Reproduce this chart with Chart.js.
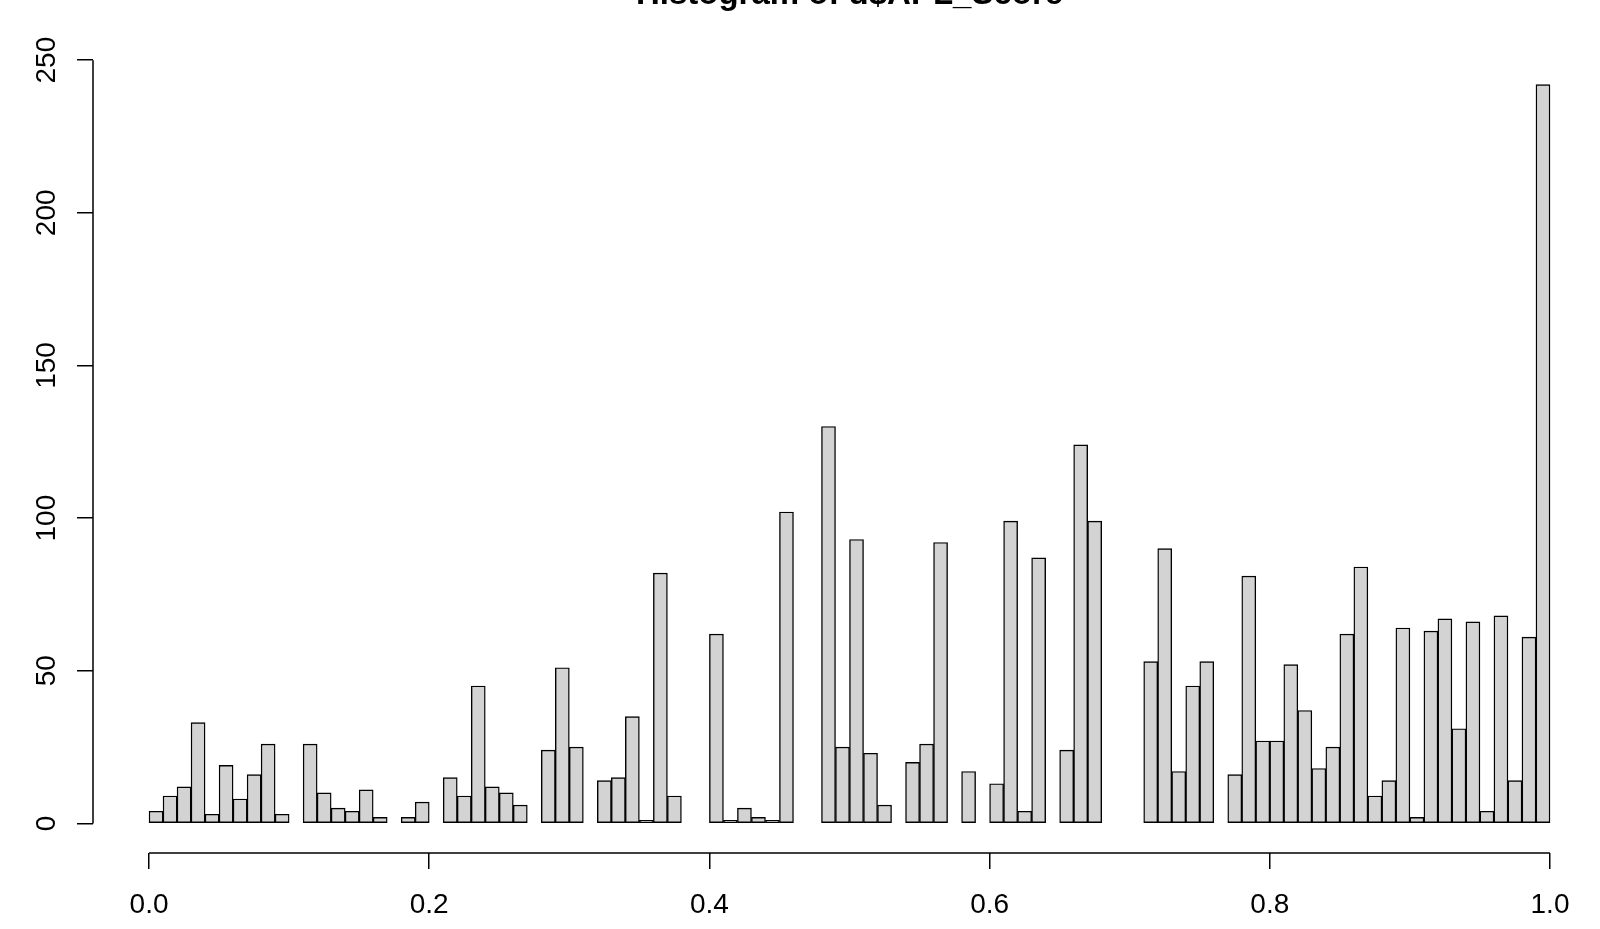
<!DOCTYPE html>
<html>
<head>
<meta charset="utf-8">
<title>Histogram of d$APL_Score</title>
<script src="https://cdn.jsdelivr.net/npm/chart.js@4/dist/chart.umd.min.js"></script>
<style>
    html, body { margin: 0; padding: 0; background: #fff; }
    #wrap { width: 1600px; height: 929px; position: relative; }
</style>
</head>
<body>
<div id="wrap"><canvas id="histChart"></canvas></div>
<script>
'use strict';

// ------------------------------------------------------- //
// Data (counts per 0.01 bin, 0.00 -> 1.00)
// ------------------------------------------------------ //
var binWidth = 0.01;
var counts = [
    4, 9, 12, 33, 3, 19, 8, 16, 26, 3,
    0, 26, 10, 5, 4, 11, 2, 0, 2, 7,
    0, 15, 9, 45, 12, 10, 6, 0, 24, 51,
    25, 0, 14, 15, 35, 1, 82, 9, 0, 0,
    62, 1, 5, 2, 1, 102, 0, 0, 130, 25,
    93, 23, 6, 0, 20, 26, 92, 0, 17, 0,
    13, 99, 4, 87, 0, 24, 124, 99, 0, 0,
    0, 53, 90, 17, 45, 53, 0, 16, 81, 27,
    27, 52, 37, 18, 25, 62, 84, 9, 14, 64,
    2, 63, 67, 31, 66, 4, 68, 14, 61, 242
];
var xTicks = [0, 0.2, 0.4, 0.6, 0.8, 1.0];
var yTicks = [0, 50, 100, 150, 200, 250];
var titleText = 'Histogram of d$APL_Score';

var fontFamily = '"Liberation Sans", Arial, Helvetica, sans-serif';

// bin midpoints used as the bars' x positions
var binMids = counts.map(function (c, i) {
    return +(i * binWidth + binWidth / 2).toFixed(3);
});
var points = counts.map(function (c, i) {
    return { x: binMids[i], y: c };
});

// R style range: data range stretched 4% each side (right side cut by the image)
var xMin = -0.04, xMax = 1.0357;
var yMin = -9.68, yMax = 251.68;

// ------------------------------------------------------- //
// R-like axes (lines only between first and last tick) + title
// ------------------------------------------------------ //
var rAxes = {
    id: 'rAxes',
    afterDraw: function (chart) {
        var ctx = chart.ctx;
        var area = chart.chartArea;
        var xs = chart.scales.x;
        var ys = chart.scales.y;
        ctx.save();
        ctx.strokeStyle = '#000';
        ctx.lineWidth = 1.5;
        ctx.beginPath();
        ctx.moveTo(xs.getPixelForValue(xTicks[0]), area.bottom);
        ctx.lineTo(xs.getPixelForValue(xTicks[xTicks.length - 1]), area.bottom);
        ctx.moveTo(area.left, ys.getPixelForValue(yTicks[0]));
        ctx.lineTo(area.left, ys.getPixelForValue(yTicks[yTicks.length - 1]));
        ctx.stroke();

        ctx.fillStyle = '#000';
        ctx.font = 'bold 33px ' + fontFamily;
        ctx.textAlign = 'center';
        ctx.textBaseline = 'alphabetic';
        ctx.fillText(titleText, (area.left + xs.getPixelForValue(1.04)) / 2, 4);
        ctx.restore();
    }
};

// ------------------------------------------------------- //
// Histogram
// ------------------------------------------------------ //
var HISTCHART = document.getElementById('histChart');
var histChart = new Chart(HISTCHART, {
    type: 'bar',
    data: {
        datasets: [
            {
                label: 'APL_Score',
                data: points,
                backgroundColor: '#d3d3d3',
                borderColor: '#000',
                borderWidth: 1.4,
                borderSkipped: false,
                barPercentage: 1.0,
                categoryPercentage: 1.0
            }
        ]
    },
    options: {
        responsive: true,
        maintainAspectRatio: false,
        animation: false,
        layout: {
            padding: { top: 55, left: 0, right: 0, bottom: 0 }
        },
        plugins: {
            legend: { display: false },
            tooltip: { enabled: false }
        },
        scales: {
            x: {
                type: 'linear',
                min: xMin,
                max: xMax,
                offset: false,
                afterBuildTicks: function (scale) {
                    scale.ticks = xTicks.map(function (v) { return { value: v }; });
                },
                afterFit: function (scale) {
                    scale.height = 76;
                },
                border: { display: false },
                grid: {
                    offset: false,
                    drawOnChartArea: false,
                    drawTicks: true,
                    tickLength: 16,
                    tickColor: '#000',
                    lineWidth: 1.5
                },
                ticks: {
                    padding: 19,
                    maxRotation: 0,
                    autoSkip: false,
                    color: '#000',
                    font: { family: fontFamily, size: 28 },
                    callback: function (v) { return Number(v).toFixed(1); }
                }
            },
            y: {
                min: yMin,
                max: yMax,
                afterBuildTicks: function (scale) {
                    scale.ticks = yTicks.map(function (v) { return { value: v }; });
                },
                afterFit: function (scale) {
                    scale.width = 93;
                },
                border: { display: false },
                grid: {
                    drawOnChartArea: false,
                    drawTicks: true,
                    tickLength: 16,
                    tickColor: '#000',
                    lineWidth: 1.5
                },
                ticks: {
                    padding: 6,
                    minRotation: 90,
                    maxRotation: 90,
                    crossAlign: 'center',
                    autoSkip: false,
                    color: '#000',
                    font: { family: fontFamily, size: 28 }
                }
            }
        }
    },
    plugins: [rAxes]
});
</script>
</body>
</html>
